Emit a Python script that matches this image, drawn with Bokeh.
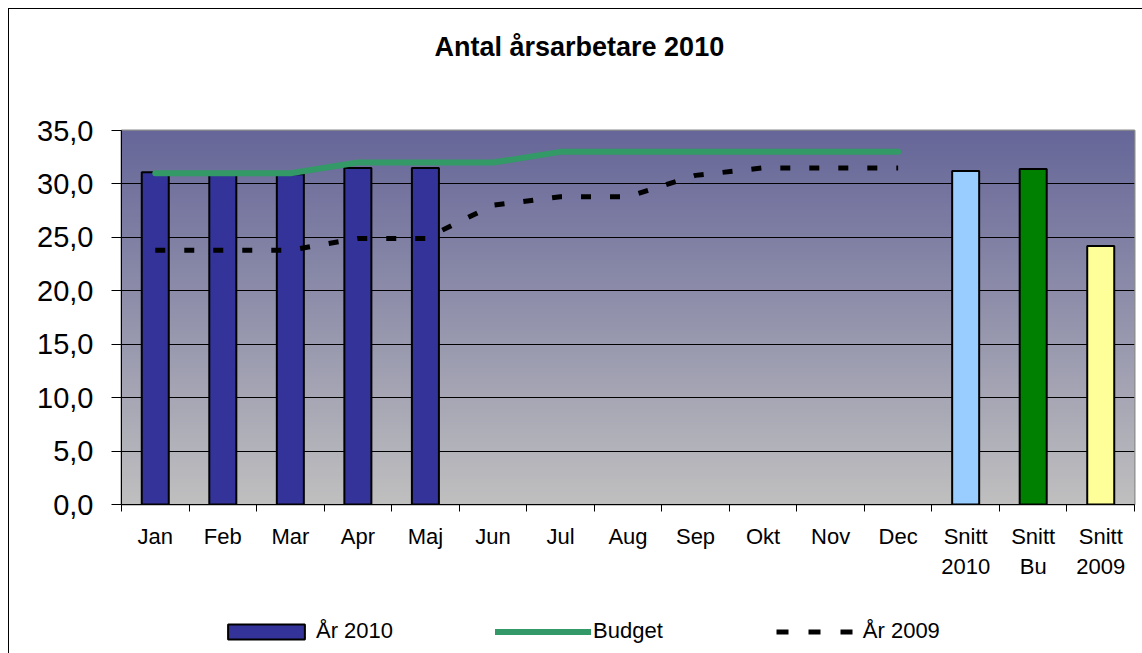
import numpy as np
from bokeh.plotting import figure
from bokeh.layouts import column
from bokeh.models import FixedTicker, Legend, LegendItem, Range1d, Title
from bokeh.embed import file_html
from bokeh.resources import INLINE

# ---- data ----
months = ["Jan", "Feb", "Mar", "Apr", "Maj", "Jun", "Jul", "Aug", "Sep", "Okt", "Nov", "Dec"]
snitt_labels = ["Snitt\n2010", "Snitt\nBu", "Snitt\n2009"]
ar_2010 = [31.1, 30.9, 30.9, 31.5, 31.5]
budget = [31.0, 31.0, 31.0, 32.0, 32.0, 32.0, 33.0, 33.0, 33.0, 33.0, 33.0, 33.0]
ar_2009 = [23.8, 23.8, 23.8, 24.9, 24.9, 28.0, 28.8, 28.8, 30.8, 31.5, 31.5, 31.5]
snitt_values = [31.2, 31.4, 24.2]
y_ticks = [0, 5, 10, 15, 20, 25, 30, 35]
y_tick_labels = ["0,0", "5,0", "10,0", "15,0", "20,0", "25,0", "30,0", "35,0"]
title_text = "Antal årsarbetare 2010"
legend_labels = ["År 2010", "Budget", "År 2009"]

# ---- styles ----
BAR_COLOR = "#333399"
BUDGET_COLOR = "#339966"
snitt_colors = ["#99CCFF", "#008000", "#FFFF99"]
FONT = "Liberation Sans"

categories = months + snitt_labels
n = len(categories)
pos = [i + 0.5 for i in range(n)]
y_min, y_max = y_ticks[0], y_ticks[-1]

p = figure(width=1133, height=600, x_range=Range1d(0, n), y_range=Range1d(y_min, y_max),
           output_backend="svg", toolbar_location=None,
           min_border_left=112, min_border_right=8, min_border_top=121, min_border_bottom=105)
p.outline_line_color = "#8C8C8C"
p.outline_line_width = 2
p.background_fill_color = "#C0C0C0"
p.border_fill_color = "white"

# title (spacer panel between frame and title)
p.add_layout(Title(text=" ", text_font_size="10px", standoff=51), "above")
p.title.text = title_text
p.title.align = "left"
p.title.offset = 313
p.title.text_font = FONT
p.title.text_font_style = "bold"
p.title.text_font_size = "27px"
p.title.text_color = "black"
p.title.standoff = 10

# gradient background of plot area
H = 256
t = np.linspace(0, 1, H)
bottom_c = np.array([192, 192, 192])
top_c = np.array([102, 102, 153])
cols = (bottom_c[None, :] * (1 - t[:, None]) + top_c[None, :] * t[:, None]).astype(np.uint8)
img = np.zeros((H, 1, 4), dtype=np.uint8)
img[:, 0, :3] = cols
img[:, 0, 3] = 255
p.image_rgba(image=[img.view(np.uint32).reshape(H, 1)], x=0, y=y_min, dw=n, dh=y_max - y_min, level="image")

# grid
p.xgrid.visible = False
p.ygrid.ticker = FixedTicker(ticks=y_ticks[1:-1])
p.ygrid.grid_line_color = "black"
p.ygrid.grid_line_width = 1

# y axis
ya = p.yaxis[0]
ya.ticker = FixedTicker(ticks=y_ticks)
ya.major_label_overrides = {k: v for k, v in zip(y_ticks, y_tick_labels)}
ya.minor_tick_line_color = None
ya.major_tick_out = 10
ya.major_tick_in = 0
ya.major_tick_line_color = "black"
ya.axis_line_color = "black"
ya.major_label_text_font = FONT
ya.major_label_text_font_size = "29px"
ya.major_label_text_color = "black"
ya.major_label_standoff = 18

# x axis
xa = p.xaxis[0]
xa.ticker = FixedTicker(ticks=pos, minor_ticks=list(range(n + 1)))
xa.major_label_overrides = {k: v for k, v in zip(pos, categories)}
xa.major_tick_line_color = None
xa.major_tick_out = 0
xa.major_tick_in = 0
xa.minor_tick_out = 7
xa.minor_tick_in = 0
xa.minor_tick_line_color = "black"
xa.axis_line_color = "black"
xa.major_label_text_font = FONT
xa.major_label_text_font_size = "22px"
xa.major_label_text_color = "black"
xa.major_label_standoff = 12

# bars
bar_style = dict(width=0.4, line_color="black", line_width=2)
p.vbar(x=pos[:len(ar_2010)], top=ar_2010, bottom=y_min, fill_color=BAR_COLOR, **bar_style)
p.vbar(x=pos[len(months):], top=snitt_values, bottom=y_min, fill_color=snitt_colors, **bar_style)

# lines
budget_style = dict(line_color=BUDGET_COLOR, line_width=6, line_cap="round", line_join="round")
prev_style = dict(line_color="black", line_width=5, line_dash="10 19")
p.line(x=pos[:len(budget)], y=budget, **budget_style)
p.line(x=pos[:len(ar_2009)], y=ar_2009, **prev_style)

# legend strip (separate figure below; legend proxies hold a single NaN row, nothing is drawn)
nan = [float("nan")]
q = figure(width=1133, height=44, x_range=Range1d(0, 1), y_range=Range1d(0, 1),
           output_backend="svg", toolbar_location=None, x_axis_type=None, y_axis_type=None,
           min_border_left=0, min_border_right=0, min_border_top=0, min_border_bottom=0)
q.outline_line_color = None
q.grid.visible = False
q.background_fill_color = "white"
q.border_fill_color = "white"
lr1 = q.vbar(x=nan, top=nan, bottom=nan, fill_color=BAR_COLOR, **bar_style)
lr2 = q.line(x=nan, y=nan, line_color=BUDGET_COLOR, line_width=6, line_cap="round")
lr3 = q.line(x=nan, y=nan, line_color="black", line_width=5, line_dash="12 20", line_dash_offset=21)
legend = Legend(items=[LegendItem(label=legend_labels[0], renderers=[lr1]),
                       LegendItem(label=legend_labels[1], renderers=[lr2]),
                       LegendItem(label=legend_labels[2], renderers=[lr3])],
                orientation="horizontal", location=(97, 9),
                glyph_width=96, glyph_height=19, label_standoff=2, spacing=102,
                padding=0, margin=0, border_line_color=None, background_fill_alpha=0,
                label_text_font=FONT, label_text_font_size="22px", label_text_color="black")
q.add_layout(legend)

layout = column(p, q, spacing=0)
layout.styles = {"margin-left": "8px", "margin-top": "8px",
                 "border-left": "1px solid #000", "border-top": "1px solid #000"}

open("out.html", "w").write(file_html(layout, INLINE))
